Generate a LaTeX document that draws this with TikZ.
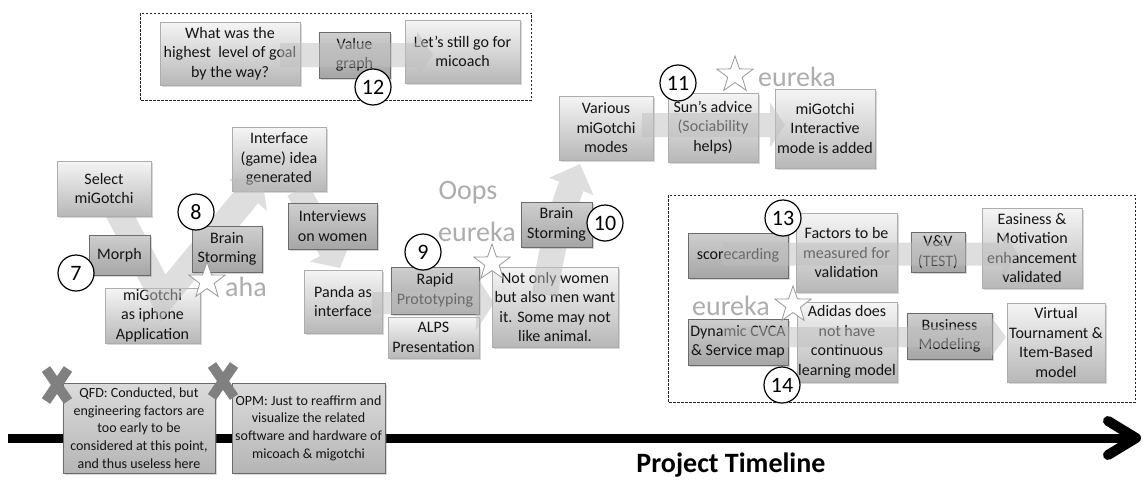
\documentclass[tikz,border=0pt]{standalone}
\usepackage{fontspec}
\setmainfont{Carlito}
\usetikzlibrary{arrows.meta,shapes.geometric,shadows}
\newcommand\bxfont{\fontsize{16}{19.5}\selectfont}
\newcommand\smfont{\fontsize{14}{17.6}\selectfont}
\newcommand\mybox[7]{%
  \pgfmathsetmacro\cxx{(#3+#5)/2}\pgfmathsetmacro\cyy{(#4+#6)/2}%
  \pgfmathsetmacro\ww{#5-#3}\pgfmathsetmacro\hh{#6-#4}%
  \node[#1, minimum width=\ww pt, minimum height=\hh pt] (#2) at (\cxx,\cyy) {#7};}
\begin{document}
\begin{tikzpicture}[x=1pt,y=-1pt,
  shad/.style={drop shadow={shadow xshift=1.5pt, shadow yshift=-1.5pt, opacity=0.3}},
  lbox/.style={shad, draw=black!32, line width=0.8pt, top color=black!4, bottom color=black!28,
     text=black!92, font=\bxfont, align=center, inner sep=0pt},
  dbox/.style={shad, draw=black!58, line width=0.8pt, top color=black!19, bottom color=black!35,
     text=black!92, font=\bxfont, align=center, inner sep=0pt},
  qbox/.style={shad, draw=black!58, line width=0.8pt, top color=black!14, bottom color=black!29,
     text=black!92, font=\smfont, align=center, inner sep=0pt},
  dashbox/.style={draw=black!85, line width=0.9pt, dash pattern=on 2.5pt off 1.5pt},
  numc/.style={circle, draw=black, line width=1.2pt, fill=white, minimum size=36pt, inner sep=0pt,
     font=\fontsize{22}{22}\selectfont},
  starsh/.style={star, star points=5, star point ratio=2.5, minimum size=38pt, inner sep=0pt,
     draw=black!40, fill=white, line width=0.8pt},
  eur/.style={text=black!32, font=\fontsize{28}{30}\selectfont, inner sep=0pt},
  bigarrow/.style={draw=black!25, line width=#1, line join=miter},
  xmark/.style={draw=black!50, line width=10pt},
]
\useasboundingbox (0,0) rectangle (1145,479);
\fill[white] (0,0) rectangle (1145,479);

% dashed frames
\draw[dashbox] (140,13) rectangle (531,100);
\draw[dashbox] (668,195) rectangle (1135,402);

% timeline
\coordinate (tl0) at (8,438);
\coordinate (tl1) at (1136,438);
\coordinate (tlA) at (1108,421);
\coordinate (tlB) at (1108,455);
\draw[line width=9pt] (tl0) -- (tl1);
\draw[line width=10pt, line cap=round, line join=round] (tlA) -- (tl1) -- (tlB);

% boxes under the arrows
\mybox{lbox}{q1}{160}{22}{300}{85}{What was the\\highest \ level of goal\\by the way?}
\mybox{dbox}{vg}{319}{32}{390}{78}{Value\\graph}
\mybox{lbox}{lg}{405}{20}{520}{83}{Let’s still go for\\micoach}
\mybox{lbox}{app}{105}{288}{200}{343}{miGotchi\\as iphone\\Application}
\mybox{lbox}{intf}{232}{127}{326}{191}{Interface\\(game) idea\\generated}
\mybox{lbox}{panda}{304}{270}{382}{333}{Panda as\\interface}
\mybox{dbox}{rapid}{391}{267}{479}{314}{Rapid\\Prototyping}
\mybox{lbox}{alps}{388}{317}{479}{358}{ALPS\\Presentation}
\mybox{lbox}{notonly}{492}{267}{618}{347}{Not only women\\but also men want\\it. Some may not\\like animal.}
\mybox{lbox}{various}{559}{96}{653}{160}{Various\\miGotchi\\modes}
\mybox{lbox}{sun}{668}{93}{758}{162}{Sun’s advice\\(Sociability\\helps)}
\mybox{lbox}{inter}{775}{89}{875}{168}{miGotchi\\Interactive\\mode is added}
\mybox{dbox}{score}{688}{233}{788}{278}{scorecarding}
\mybox{lbox}{factors}{796}{213}{897}{292}{Factors to be\\measured for\\validation}
\mybox{dbox}{vv}{911}{232}{965}{272}{V\&V\\(TEST)}
\mybox{lbox}{easy}{982}{208}{1082}{288}{Easiness \&\\Motivation\\enhancement\\validated}
\mybox{dbox}{cvca}{688}{319}{788}{365}{Dynamic CVCA\\\& Service map}
\mybox{lbox}{adidas}{797}{302}{897}{382}{Adidas does\\not have\\continuous\\learning model}
\mybox{dbox}{busi}{907}{313}{992}{359}{Business\\Modeling}
\mybox{lbox}{virt}{1007}{303}{1105}{382}{Virtual\\Tournament \&\\Item-Based\\model}
\mybox{qbox}{qfd}{63}{383}{215}{473}{QFD: Conducted, but\\engineering factors are\\too early to be\\considered at this point,\\and thus useless here}
\mybox{qbox}{opm}{232}{383}{385}{473}{OPM: Just to reaffirm and\\visualize the related\\software and hardware of\\micoach \& migotchi}

% arrow coordinates
\coordinate (a1) at (112,200);
\coordinate (a2) at (163,298);
\coordinate (a3) at (262,178);
\coordinate (b1) at (298,190);
\coordinate (b2) at (340,268);
\coordinate (c1) at (372,303);
\coordinate (c2) at (494,303);
\coordinate (d1) at (545,295);
\coordinate (d2) at (580,164);
\coordinate (e1) at (642,125);
\coordinate (e2) at (785,125);
\coordinate (f1) at (280,55);
\coordinate (f2) at (433,55);
\coordinate (g1) at (723,254);
\coordinate (g2) at (1018,254);
\coordinate (h1) at (723,337);
\coordinate (h2) at (1006,337);

\begin{scope}[transparency group, opacity=0.5]
\draw[bigarrow=26pt, -{Triangle[length=22pt,width=48pt]}] (a1) -- (a2) -- (a3);
\draw[bigarrow=24pt, -{Triangle[length=20pt,width=46pt]}] (b1) -- (b2);
\draw[bigarrow=22pt, -{Triangle[length=18pt,width=54pt]}] (c1) -- (c2);
\draw[bigarrow=26pt, -{Triangle[length=24pt,width=46pt]}] (d1) .. controls (552,240) and (566,200) .. (d2);
\draw[bigarrow=24pt, -{Triangle[length=15pt,width=44pt]}] (e1) -- (e2);
\draw[bigarrow=24pt, -{Triangle[length=16pt,width=46pt]}] (f1) -- (f2);
\draw[bigarrow=23pt, -{Triangle[length=15pt,width=44pt]}] (g1) -- (g2);
\draw[bigarrow=20pt, -{Triangle[length=15pt,width=40pt]}] (h1) -- (h2);
\end{scope}

% boxes above the arrows
\mybox{lbox}{select}{57}{161}{151}{216}{Select\\miGotchi}
\mybox{dbox}{morph}{89}{235}{150}{275}{Morph}
\mybox{dbox}{brain8}{192}{226}{262}{272}{Brain\\Storming}
\mybox{dbox}{interv}{288}{203}{377}{249}{Interviews\\on women}
\mybox{dbox}{brain10}{521}{202}{592}{247}{Brain\\Storming}

% eureka marks
\node[starsh] (s1) at (207,281) {};
\node[eur] (t1) at (246,287) {aha};
\node[eur] (t2) at (468,193) {Oops};
\node[eur] (t3) at (477,232) {eureka};
\node[starsh] (s2) at (492,263) {};
\node[starsh] (s3) at (735,75) {};
\node[eur] (t4) at (797,77) {eureka};
\node[eur] (t5) at (731,306) {eureka};
\node[starsh] (s4) at (793,305) {};

% numbered circles
\node[numc] (n7) at (76,273) {7};
\node[numc] (n8) at (196,212) {8};
\node[numc] (n9) at (423,252) {9};
\node[numc] (n10) at (605,223) {10};
\node[numc] (n11) at (678,83) {11};
\node[numc] (n12) at (373,87) {12};
\node[numc] (n13) at (783,218) {13};
\node[numc] (n14) at (782,385) {14};

% crosses
\coordinate (x1a) at (46,369); \coordinate (x1b) at (68,401);
\coordinate (x1c) at (68,369); \coordinate (x1d) at (46,401);
\draw[xmark] (x1a) -- (x1b); \draw[xmark] (x1c) -- (x1d);
\coordinate (x2a) at (212,365); \coordinate (x2b) at (234,397);
\coordinate (x2c) at (234,365); \coordinate (x2d) at (212,397);
\draw[xmark] (x2a) -- (x2b); \draw[xmark] (x2c) -- (x2d);

\node[font=\fontsize{28}{30}\selectfont\bfseries, inner sep=0pt] (ptl) at (731,465) {Project Timeline};
\end{tikzpicture}
\end{document}
